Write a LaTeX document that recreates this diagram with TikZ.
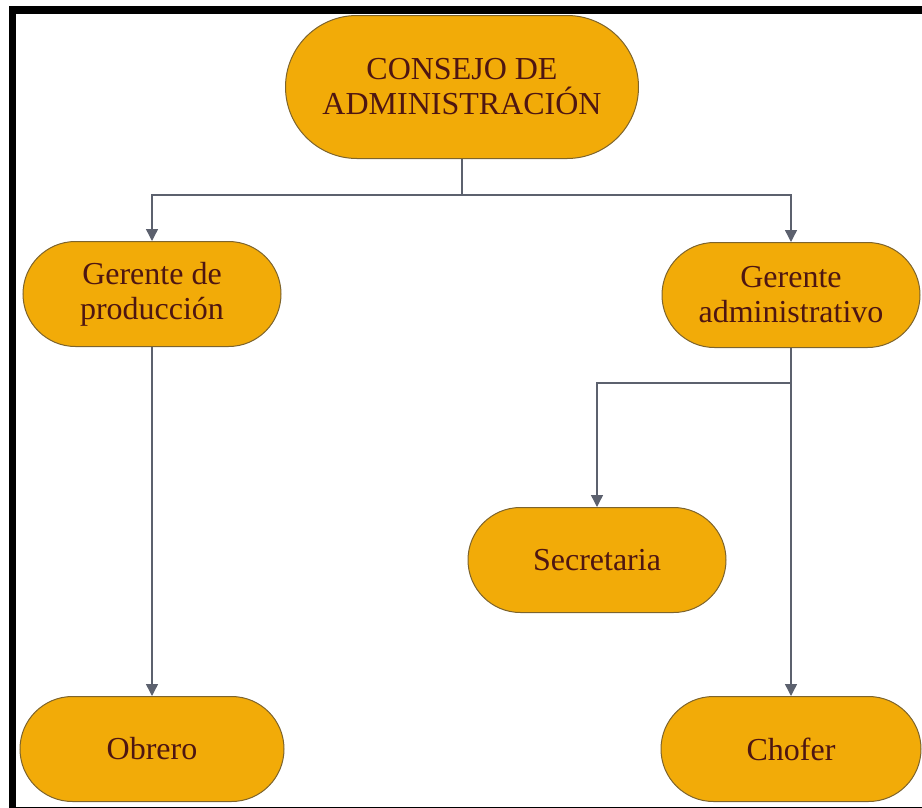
\documentclass[tikz,border=0pt]{standalone}
\usepackage{fontspec}
\setmainfont{Liberation Serif}
\usepackage{tikz}
\usetikzlibrary{arrows.meta,calc,positioning,shapes.misc}
\usepackage{xcolor}
\definecolor{relleno}{RGB}{242,171,8}
\definecolor{bordecaja}{RGB}{125,100,45}
\definecolor{texto}{RGB}{78,22,18}
\definecolor{linea}{RGB}{92,97,110}

\begin{document}
\begin{tikzpicture}[x=1pt, y=-1pt,
  caja/.style={rounded rectangle, draw=bordecaja, line width=1pt, fill=relleno,
    text=texto, align=center, font=\fontsize{32}{35}\selectfont,
    minimum width=262pt, minimum height=105pt, inner sep=2pt},
  flecha/.style={draw=linea, line width=1.4pt, -{Triangle[width=12pt,length=12pt]}},
  tramo/.style={draw=linea, line width=1.4pt}]
\useasboundingbox (0,0) rectangle (922,807);
% --- cajas ---
\node[caja, minimum width=357pt, minimum height=143pt] (consejo) at (462,87) {CONSEJO DE\\ADMINISTRACIÓN};
\node[caja] (gprod) at (152,294) {Gerente de\\producción};
\node[caja] (gadm) at (791,295) {Gerente\\administrativo};
\node[caja] (secre) at (597,560) {Secretaria};
\node[caja, minimum width=268pt] (obrero) at (152,749) {Obrero};
\node[caja, minimum width=264pt] (chofer) at (791,749) {Chofer};
% --- conexiones ---
\coordinate (bifA) at (462,195);
\coordinate (bifB) at (791,383);
\draw[tramo] (consejo.south) -- (bifA);
\draw[flecha] (bifA) -| (gprod.north);
\draw[flecha] (bifA) -| (gadm.north);
\draw[flecha] (gprod.south) -- (obrero.north);
\draw[flecha] (gadm.south) -- (chofer.north);
\draw[flecha] (bifB) -| (secre.north);
% --- marco ---
\draw[black, line width=7.5pt] (12.5,10) rectangle (940,811);
\end{tikzpicture}
\end{document}
